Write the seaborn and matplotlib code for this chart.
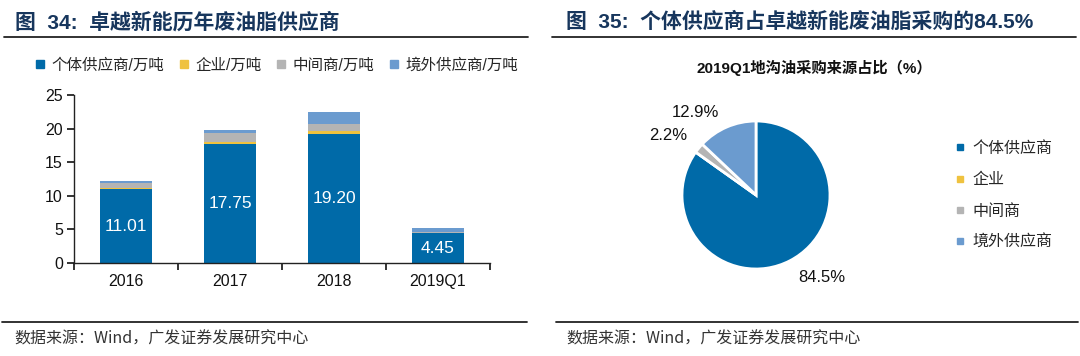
import numpy as np
import pandas as pd
import matplotlib
matplotlib.use("Agg")
from matplotlib import pyplot as plt
from matplotlib.lines import Line2D
import seaborn as sns

# bar data (万吨)
years = ["2016", "2017", "2018", "2019Q1"]
individual = [11.01, 17.75, 19.20, 4.45]
enterprise = [0.15, 0.20, 0.40, 0.00]
middleman = [0.80, 1.40, 1.10, 0.12]
overseas = [0.25, 0.50, 1.70, 0.68]
bar_labels = ["个体供应商/万吨", "企业/万吨", "中间商/万吨", "境外供应商/万吨"]

# pie data (%)
pie_labels = ["个体供应商", "企业", "中间商", "境外供应商"]
pie_values = [84.5, 0.0, 2.2, 12.9]

colors = ["#006AA8", "#EFC23F", "#B4B4B4", "#6B9BCF"]
navy = "#17365D"

sns.set_style("white")
plt.rcParams["font.family"] = ["Liberation Sans", "Noto Sans CJK SC"]
plt.rcParams["axes.unicode_minus"] = False

W, H = 1080, 356
fig = plt.figure(figsize=(10.8, 3.56), dpi=100)


def fx(px):
    return px / W


def fy(py):
    return 1 - py / H


# ---- headers / footers ----
fig.text(fx(15), fy(22), "图  34:  卓越新能历年废油脂供应商", fontsize=15, fontweight="bold",
         color=navy, va="center", ha="left")
fig.text(fx(566), fy(22), "图  35:  个体供应商占卓越新能废油脂采购的84.5%", fontsize=15,
         fontweight="bold", color=navy, va="center", ha="left")
for x0, x1 in [(4, 528), (552, 1076)]:
    fig.add_artist(Line2D([fx(x0), fx(x1)], [fy(37), fy(37)], color="#222222", lw=1.3))
for x0, x1 in [(2, 527), (556, 1078)]:
    fig.add_artist(Line2D([fx(x0), fx(x1)], [fy(322), fy(322)], color="#222222", lw=1.3))
for x0 in [14, 566]:
    fig.text(fx(x0), fy(339), "数据来源：Wind，广发证券发展研究中心", fontsize=11.5,
             color="#333333", va="center", ha="left", family=["Noto Sans CJK SC"])

# ---- stacked bar chart ----
df = pd.DataFrame({"year": years, "individual": individual, "enterprise": enterprise,
                   "middleman": middleman, "overseas": overseas})
cols = ["individual", "enterprise", "middleman", "overseas"]
cum = df[cols].cumsum(axis=1)

ax = fig.add_axes([fx(74), fy(263), fx(490 - 74), (263 - 95) / H])
for i in range(len(cols) - 1, -1, -1):
    sns.barplot(x=df["year"], y=cum[cols[i]], color=colors[i], width=0.5,
                saturation=1, ax=ax, edgecolor="none", linewidth=0)

for i, v in enumerate(individual):
    ax.text(i, v / 2, f"{v:.2f}", ha="center", va="center", color="white", fontsize=12.5)

ax.set_ylim(0, 25)
ax.set_xlim(-0.5, len(years) - 0.5)
ax.set_yticks([0, 5, 10, 15, 20, 25])
ax.set_xlabel("")
ax.set_ylabel("")
ax.set_xticks(np.arange(len(years) + 1) - 0.5, minor=True)
ax.tick_params(axis="x", which="major", length=0, labelsize=11.5, pad=8, colors="#111111")
ax.tick_params(axis="x", which="minor", length=5, width=1.2, direction="out", color="#111111",
               bottom=True)
ax.tick_params(axis="y", which="major", length=5, width=1.2, direction="out", labelsize=11.5,
               left=True, colors="#111111", pad=3)
for s in ["top", "right"]:
    ax.spines[s].set_visible(False)
for s in ["left", "bottom"]:
    ax.spines[s].set_color("#222222")
    ax.spines[s].set_linewidth(1)

handles = [Line2D([], [], marker="s", ls="none", color=c, markersize=6) for c in colors]
fig.legend(handles, bar_labels, loc="center left", bbox_to_anchor=(fx(34), fy(65)), ncol=4,
           frameon=False, fontsize=11.2, handlelength=0.8, handletextpad=0.3,
           columnspacing=0.9, borderaxespad=0, borderpad=0)

# ---- pie chart ----
fig.text(fx(814), fy(68), "2019Q1地沟油采购来源占比（%）", fontsize=11, fontweight="bold",
         ha="center", va="center", color="#111111")

r = 74
axp = fig.add_axes([fx(756 - r), fy(195 + r), 2 * r / W, 2 * r / H])
pct_text = [f"{v:.1f}%" if v > 0 else "" for v in pie_values]
wedges, texts = axp.pie(
    pie_values, colors=colors, startangle=90, counterclock=False,
    labels=pct_text, labeldistance=1.4,
    wedgeprops=dict(edgecolor="white", linewidth=2),
    textprops=dict(fontsize=12, color="#111111"))
# nudge labels to where the original put them (radius units from centre)
label_pos = [(0.89, -1.11), (0, 0), (-1.19, 0.81), (-0.82, 1.12)]
for t, (lx, ly) in zip(texts, label_pos):
    t.set_position((lx, ly))
    t.set_ha("center")
    t.set_va("center")
axp.set_xlim(-1, 1)
axp.set_ylim(-1, 1)
axp.set_aspect("equal")

phandles = [Line2D([], [], marker="s", ls="none", color=c, markersize=5) for c in colors]
fig.legend(phandles, pie_labels, loc="upper left", bbox_to_anchor=(fx(955), fy(141)),
           frameon=False, fontsize=11.5, handlelength=0.6, handletextpad=0.5,
           labelspacing=1.02, borderaxespad=0, borderpad=0)

fig.savefig("out.png", dpi=100)
